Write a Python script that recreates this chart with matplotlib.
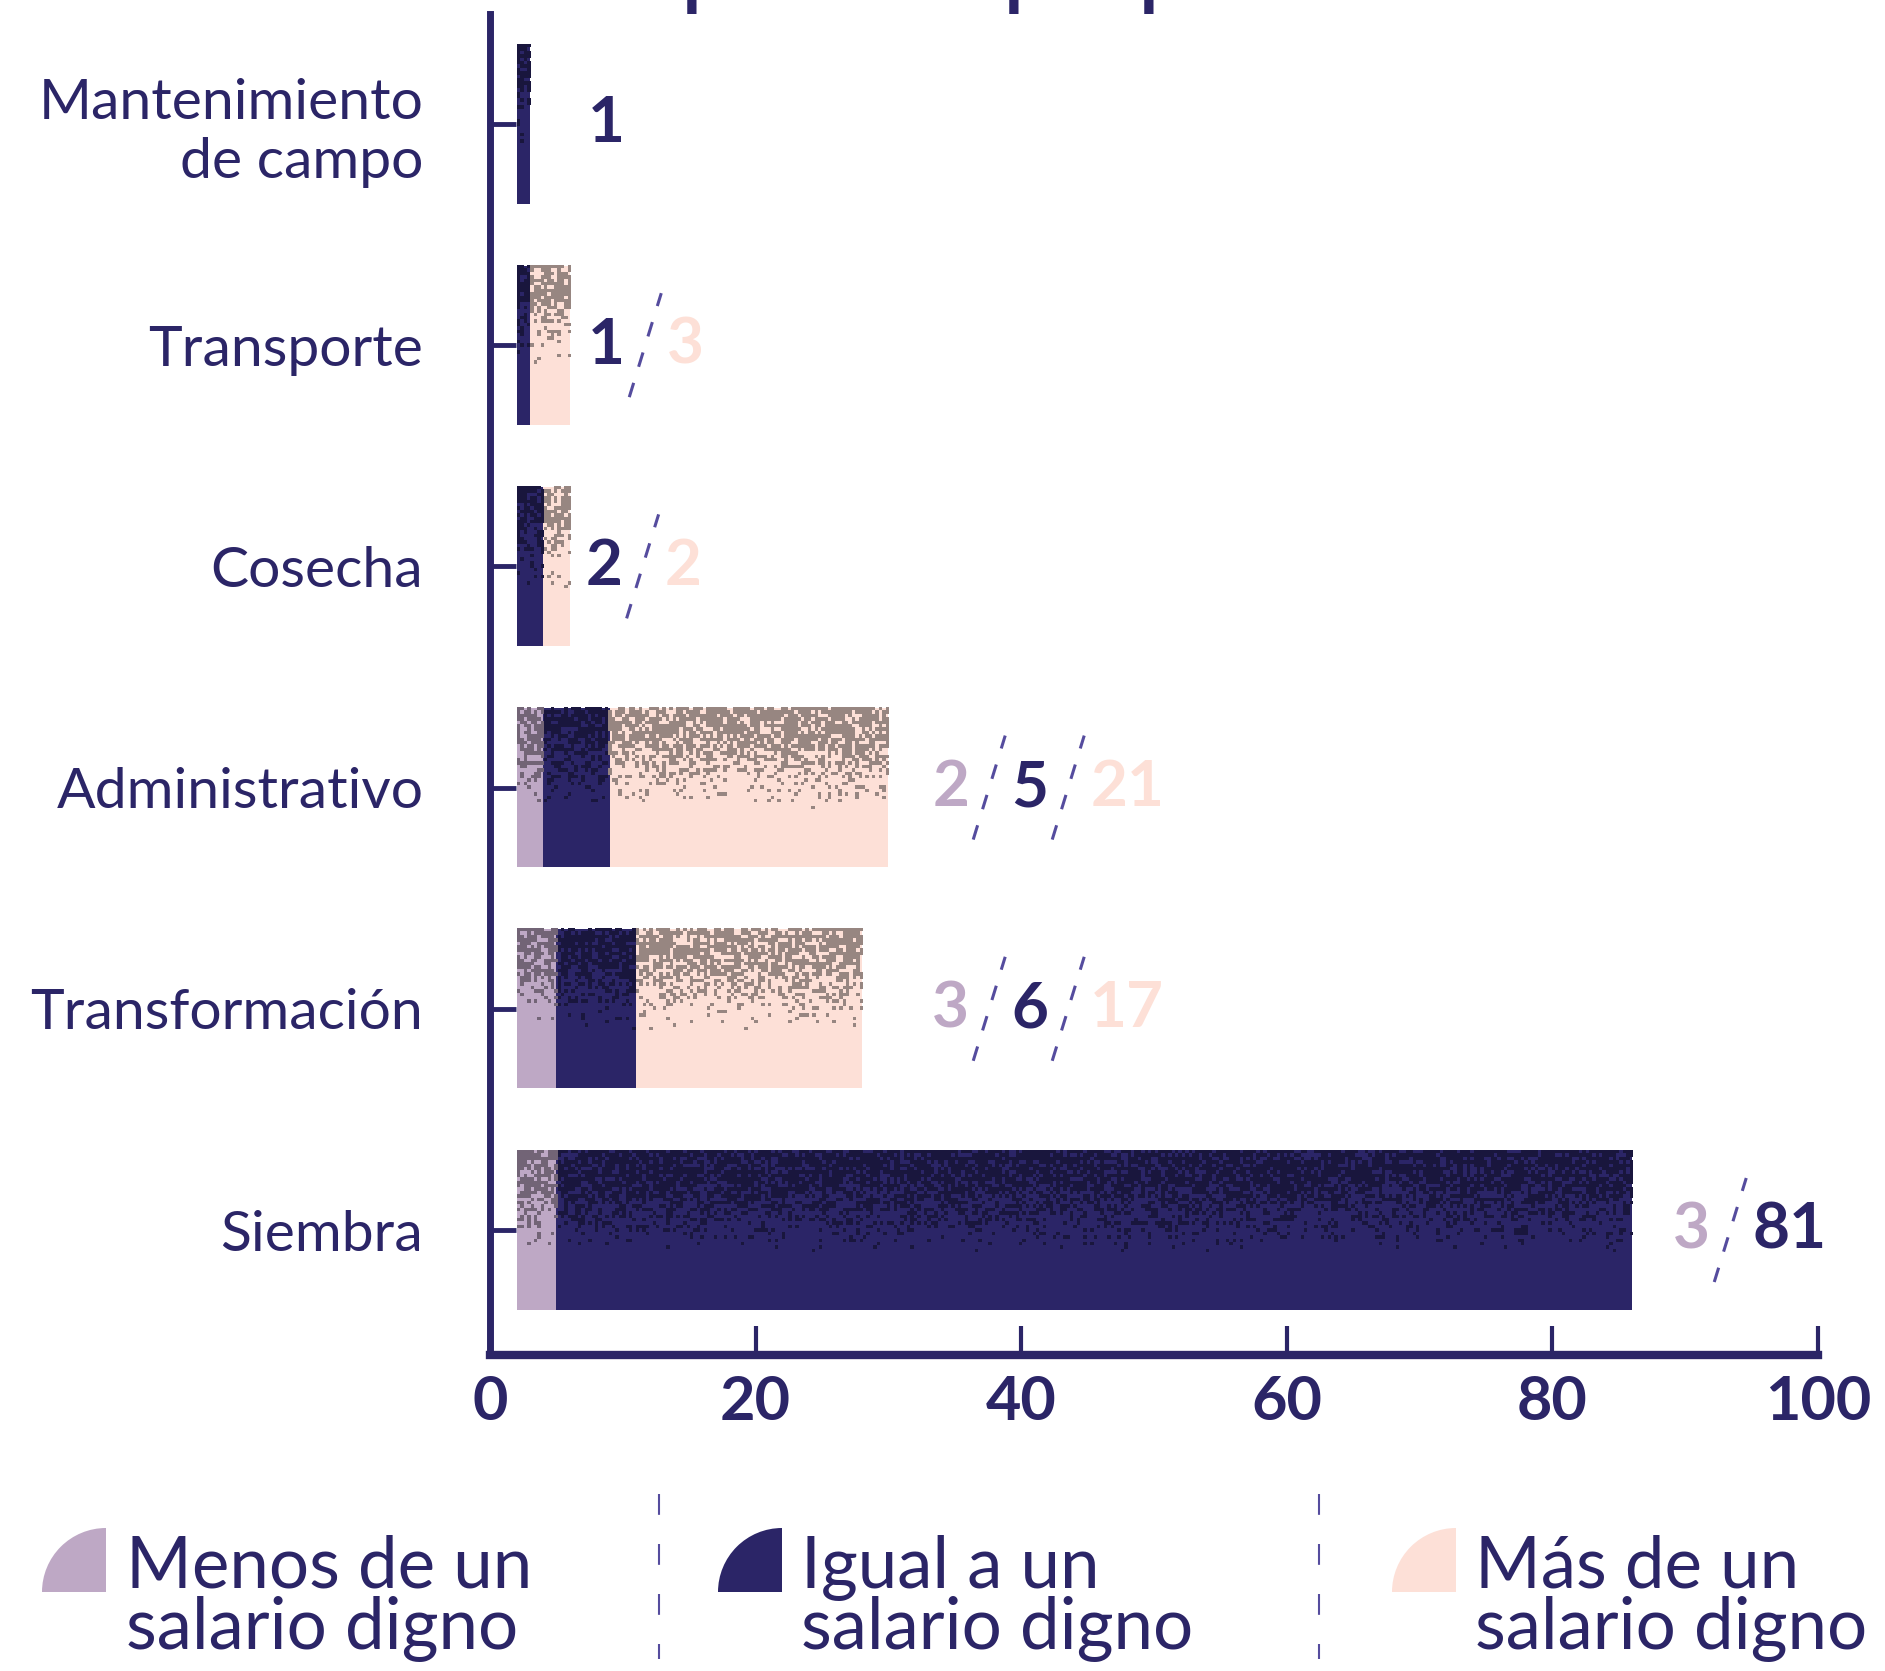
import numpy as np
import matplotlib
matplotlib.use("Agg")
import matplotlib.pyplot as plt
from matplotlib.patches import Wedge
from matplotlib.lines import Line2D
from matplotlib.transforms import IdentityTransform

# data (bottom to top)
stages = ["Siembra", "Transformación", "Administrativo", "Cosecha",
          "Transporte", "Mantenimiento\nde campo"]
menos = [3, 3, 2, 0, 0, 0]
igual = [81, 6, 5, 2, 1, 1]
mas = [0, 17, 21, 2, 3, 0]
x_ticks = [0, 20, 40, 60, 80, 100]
legend_labels = ["Menos de un\nsalario digno", "Igual a un\nsalario digno",
                 "Más de un\nsalario digno"]
title_text = "por etapa productiva"

# layout / style
W, H = 1885, 1671
NAVY = "#2b2567"
LILAC = "#bea8c5"
PEACH = "#fde0d7"
DASH = "#554c9e"
colors = [LILAC, NAVY, PEACH]
BAR_START = 2
BAR_H = 0.72
label_x = [89.1, 33.3, 33.3, 7.2, 7.4, 7.4]

plt.rcParams['font.family'] = ['Lato', 'DejaVu Sans']

fig = plt.figure(figsize=(W / 100, H / 100), dpi=100)
ax = fig.add_axes([490 / W, 1 - 1355 / H, 1328 / W, (1355 - 14) / H])

y = np.arange(len(stages))
left = np.full(len(stages), BAR_START, dtype=float)
for vals, c in zip((menos, igual, mas), colors):
    ax.barh(y, vals, left=left, height=BAR_H, color=c, zorder=2)
    left = left + np.array(vals)

# grainy texture on the upper half of each bar (decoration only)
rng = np.random.default_rng(11)
cell = 3.4 / 13.28  # ~3 px in data units
for i in range(len(stages)):
    total = menos[i] + igual[i] + mas[i]
    ncols = int(np.ceil(total / cell))
    nrows = 47
    edges = np.cumsum([BAR_START, menos[i], igual[i], mas[i]])
    xc = BAR_START + (np.arange(ncols) + 0.5) * total / ncols
    seg = np.clip(np.searchsorted(edges, xc, side='right') - 1, 0, 2)
    base = np.array([matplotlib.colors.to_rgb(c) for c in colors])[seg]
    t = (np.arange(nrows) + 0.5) / nrows
    prob = 0.72 * np.clip((0.64 - t) / 0.45, 0, 1) ** 1.2
    mask = rng.random((nrows, ncols)) < prob[:, None]
    img = np.zeros((nrows, ncols, 4))
    img[..., :3] = base[None, :, :] * 0.6
    img[..., 3] = mask
    ax.imshow(img, extent=(BAR_START, BAR_START + total, y[i] - BAR_H / 2, y[i] + BAR_H / 2),
              origin='upper', interpolation='nearest', aspect='auto', zorder=3)

ax.set_xlim(0, 100)
ax.set_ylim(-0.565, 5.497)
for s in ("top", "right"):
    ax.spines[s].set_visible(False)
ax.spines["left"].set_linewidth(5)
ax.spines["left"].set_color(NAVY)
ax.spines["bottom"].set_linewidth(6)
ax.spines["bottom"].set_color(NAVY)

ax.set_xticks(x_ticks)
ax.set_xticklabels([str(v) for v in x_ticks], fontweight="bold")
ax.tick_params(axis="x", direction="in", length=21, width=3, pad=14,
               labelsize=44, color=NAVY, labelcolor=NAVY)
ax.set_yticks(y)
ax.set_yticklabels(stages, linespacing=1.2)
ax.tick_params(axis="y", direction="in", length=19, width=3.5, pad=48,
               labelsize=41, color=NAVY, labelcolor=NAVY)

# value labels with dashed slashes
fig.canvas.draw()
rend = fig.canvas.get_renderer()
for i in range(len(stages)):
    parts = [(v, c) for v, c in zip((menos[i], igual[i], mas[i]), colors) if v > 0]
    xp, yp = ax.transData.transform((label_x[i], y[i]))
    for j, (v, c) in enumerate(parts):
        if j > 0:
            xs = xp + 20
            ax.add_line(Line2D([xs - 16, xs + 16], [yp - 52, yp + 52],
                               transform=IdentityTransform(), color=DASH, lw=2.2,
                               dashes=(4.9, 5.5), clip_on=False))
            xp += 42
        txt = ax.text(xp, yp, str(v), transform=IdentityTransform(), color=c,
                      fontsize=46, fontweight="bold", ha="left", va="center")
        xp = txt.get_window_extent(rend).x1

# cut-off title at the top
fig.text(680 / W, 1 + 4 / H, title_text, fontsize=74, color=NAVY, va="baseline")

# legend
shape_x = [42, 718, 1392]
text_x = [126, 801, 1475]
for k, lab in enumerate(legend_labels):
    fig.add_artist(Wedge(((shape_x[k] + 64) / 100, (H - 1592) / 100), 0.64, 90, 180,
                         transform=fig.dpi_scale_trans, color=colors[k], lw=0))
    l1, l2 = lab.split("\n")
    fig.text(text_x[k] / W, 1 - 1588 / H, l1, fontsize=51, color=NAVY, va="baseline")
    fig.text(text_x[k] / W, 1 - 1649 / H, l2, fontsize=51, color=NAVY, va="baseline")
for sx in (659, 1319):
    fig.add_artist(Line2D([sx / W, sx / W], [1 - 1494 / H, 1 - 1659 / H],
                          transform=fig.transFigure, color=DASH, lw=1.5,
                          dashes=(10, 14)))

fig.savefig("out.png", dpi=100)
